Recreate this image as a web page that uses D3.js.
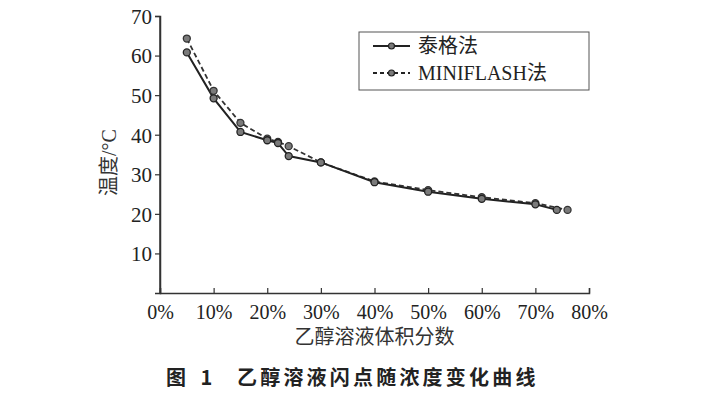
<!DOCTYPE html>
<html>
<head>
<meta charset="utf-8">
<script src="https://cdn.jsdelivr.net/npm/d3@7"></script>
<style>
  body { margin: 0; background: #fff; }
  svg { display: block; }
</style>
</head>
<body>
<svg id="chart"></svg>
<script>
const tagX = [5, 10, 15, 20, 22, 24, 30, 40, 50, 60, 70, 74]
const tagY = [60.8, 49.2, 40.7, 38.6, 37.9, 34.6, 33.0, 28.0, 25.6, 23.8, 22.4, 21.0]
const miniX = [5, 10, 15, 20, 22, 24, 30, 40, 50, 60, 70, 76]
const miniY = [64.3, 51.1, 43.0, 39.0, 38.2, 37.1, 33.0, 28.2, 26.0, 24.2, 22.7, 21.0]
const xTicks = [0, 10, 20, 30, 40, 50, 60, 70, 80]
const yTicks = [10, 20, 30, 40, 50, 60, 70]
const seriesNames = ['泰格法', 'MINIFLASH法']

const width = 716, height = 396
const margin = { top: 16, left: 160, bottom: 103, right: 127 }
const iwidth = width - margin.left - margin.right
const iheight = height - margin.top - margin.bottom
const serif = '"Liberation Serif", "Times New Roman", "Noto Sans CJK SC", serif'
const cjk = '"Noto Sans CJK SC", "Liberation Serif", serif'

const svg = d3.select('#chart').attr('width', width).attr('height', height)
const g = svg.append('g').attr('transform', `translate(${margin.left},${margin.top})`)

const x = d3.scaleLinear().domain([0, 80]).range([0, iwidth])
const y = d3.scaleLinear().domain([0, 70]).range([iheight, 0])

// axes
const xAxis = g.append('g')
  .attr('transform', `translate(0,${iheight})`)
  .call(d3.axisBottom(x).tickValues(xTicks).tickFormat(d => d + '%').tickSizeOuter(0).tickSize(-5).tickPadding(12))
const yAxis = g.append('g')
  .call(d3.axisLeft(y).tickValues(yTicks).tickSizeOuter(0).tickSize(5).tickPadding(3))

for (const ax of [xAxis, yAxis]) {
  ax.select('.domain').attr('stroke', '#333').attr('stroke-width', 1.5)
  ax.selectAll('.tick line').attr('stroke', '#333').attr('stroke-width', 1.2)
  ax.selectAll('.tick text').attr('fill', '#222').style('font-family', serif).style('font-size', '21px')
}
xAxis.selectAll('.tick text').style('font-size', '20px').attr('dy', '0.71em')
yAxis.selectAll('.tick text').attr('dy', '0.35em')
// axis bottom-left corner
g.append('line').attr('x1', 0).attr('x2', 0).attr('y1', y(70)).attr('y2', iheight)
  .attr('stroke', '#333').attr('stroke-width', 1.5)

// series
const tag = tagX.map((d, i) => ({ x: d, y: tagY[i] }))
const mini = miniX.map((d, i) => ({ x: d, y: miniY[i] }))
const line = d3.line().x(d => x(d.x)).y(d => y(d.y))

g.append('path').datum(mini).attr('d', line)
  .attr('fill', 'none').attr('stroke', '#333').attr('stroke-width', 1.8).attr('stroke-dasharray', '5,3')
g.append('path').datum(tag).attr('d', line)
  .attr('fill', 'none').attr('stroke', '#222').attr('stroke-width', 2)

g.selectAll('.mini').data(mini).enter().append('circle')
  .attr('class', 'mini')
  .attr('cx', d => x(d.x)).attr('cy', d => y(d.y)).attr('r', 3.5)
  .attr('fill', '#7a7a7a').attr('stroke', '#333').attr('stroke-width', 1.3)
g.selectAll('.tag').data(tag).enter().append('circle')
  .attr('class', 'tag')
  .attr('cx', d => x(d.x)).attr('cy', d => y(d.y)).attr('r', 3.5)
  .attr('fill', '#7a7a7a').attr('stroke', '#222').attr('stroke-width', 1.3)

// legend
const lg = svg.append('g').attr('transform', 'translate(359,32)')
lg.append('rect').attr('width', 230).attr('height', 58)
  .attr('fill', '#fff').attr('stroke', '#555').attr('stroke-width', 1)
seriesNames.forEach((name, i) => {
  const ly = 14 + i * 27
  lg.append('line').attr('x1', 14).attr('x2', 51).attr('y1', ly).attr('y2', ly)
    .attr('stroke', '#222').attr('stroke-width', i === 0 ? 2 : 1.8)
    .attr('stroke-dasharray', i === 0 ? null : '4,3')
  lg.append('circle').attr('cx', 32.5).attr('cy', ly).attr('r', 3)
    .attr('fill', '#7a7a7a').attr('stroke', '#222').attr('stroke-width', 1.2)
  lg.append('text').attr('x', 59).attr('y', ly).attr('dy', '0.35em')
    .style('font-family', serif).style('font-size', '20px').attr('fill', '#222')
    .text(name)
})

// titles
svg.append('text')
  .attr('transform', `translate(116,${margin.top + iheight / 2 + 8}) rotate(-90)`)
  .attr('text-anchor', 'middle')
  .style('font-family', serif).style('font-size', '20px').attr('fill', '#333')
  .text('温度/°C')
svg.append('text')
  .attr('x', margin.left + iwidth / 2).attr('y', 344)
  .attr('text-anchor', 'middle')
  .style('font-family', cjk).style('font-size', '20px').attr('fill', '#333')
  .text('乙醇溶液体积分数')
const cap = svg.append('text')
  .attr('y', 385)
  .style('font-family', cjk).style('font-size', '20px').style('font-weight', 'bold')
  .attr('fill', '#222')
cap.append('tspan').attr('x', 166).style('letter-spacing', '5px').text('图 1')
cap.append('tspan').attr('x', 237).style('letter-spacing', '3.2px').text('乙醇溶液闪点随浓度变化曲线')
</script>
</body>
</html>
